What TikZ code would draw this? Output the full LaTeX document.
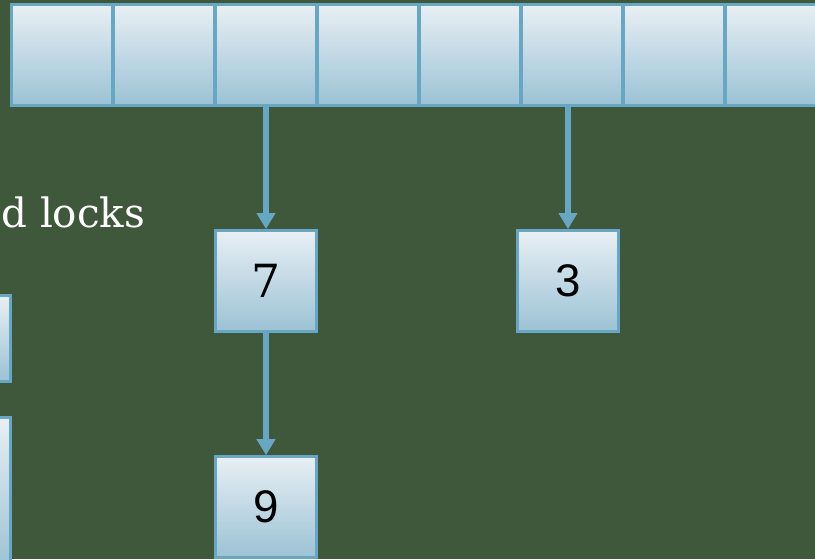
\documentclass[tikz,border=0pt]{standalone}
\usepackage{fontspec}
\setmainfont{Liberation Sans}
\newfontfamily\slabfont{DejaVu Serif}
\usetikzlibrary{positioning,arrows.meta}
\definecolor{wallgreen}{HTML}{3F573B}
\definecolor{celltop}{HTML}{E8EFF4}
\definecolor{cellbot}{HTML}{9BC2D5}
\definecolor{celledge}{HTML}{67A7C3}

\begin{document}
\begin{tikzpicture}[
  x=0.02cm, y=0.02cm,
  node distance=2.44cm,
  cell/.style={draw=celledge, line width=1.8pt, top color=celltop,
    bottom color=cellbot, minimum width=2.02cm, minimum height=2.02cm,
    inner sep=0pt, font=\fontsize{26}{30}\selectfont},
  link/.style={-{Triangle[width=0.36cm, length=0.32cm]}, line width=3pt,
    draw=celledge},
  title/.style={text=white, font=\slabfont\fontsize{23}{28}\selectfont,
    inner sep=0pt},
]
\useasboundingbox (0,0) rectangle (815,-559);
\fill[wallgreen] (0,0) rectangle (815,-559);
\clip (0,0) rectangle (815,-559);

% ---- the table of buckets ----------------------------------------------
\foreach \i in {1,...,8}
  \node[cell] (c\i) at ({62+102*(\i-1)}, -55) {};

% ---- chained entries ----------------------------------------------------
\node[cell, below=of c3] (n7) {\slabfont 7};
\node[cell, below=of c6, xshift=-0.08cm] (n3) {3};
\node[cell, below=of n7] (n9) {9};

\draw[link] (c3) -- (n7);
\draw[link] (c6.south -| n3) -- (n3);
\draw[link] (n7) -- (n9);

% ---- text and boxes at the left edge -------------------------------------
\node[title, anchor=base west] (head) at (1,-227) {d locks};
\node[cell, minimum height=1.72cm, anchor=east] (lk1) at (12,-338.5) {};
\node[cell, minimum height=3cm, anchor=north east] (lk2) at (12,-416) {};

\end{tikzpicture}
\end{document}
